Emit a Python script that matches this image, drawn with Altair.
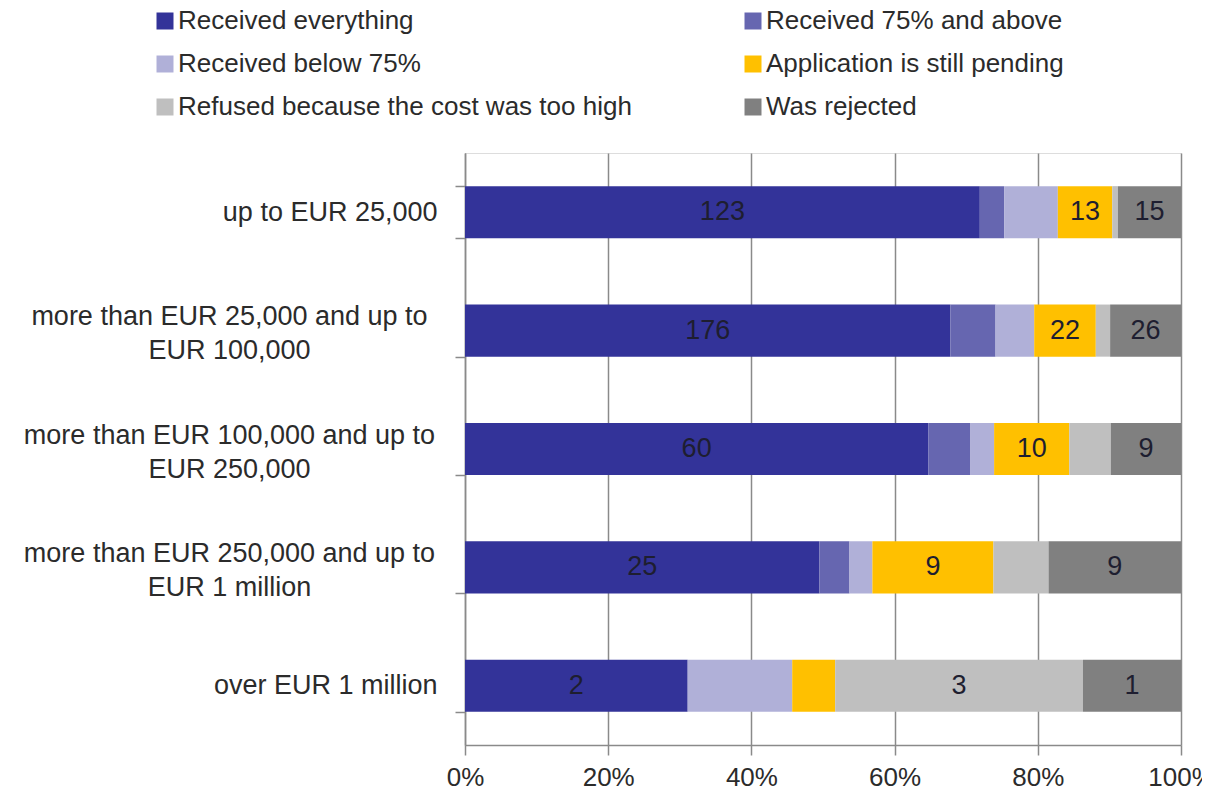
import altair as alt
import pandas as pd

categories = [
    "up to EUR 25,000",
    "more than EUR 25,000 and up to EUR 100,000",
    "more than EUR 100,000 and up to EUR 250,000",
    "more than EUR 250,000 and up to EUR 1 million",
    "over EUR 1 million",
]
series = [
    "Received everything",
    "Received 75% and above",
    "Received below 75%",
    "Application is still pending",
    "Refused because the cost was too high",
    "Was rejected",
]
colors = ["#333399", "#6666b0", "#b0b0d8", "#ffc000", "#bfbfbf", "#808080"]

# shares (%) of each answer per category
share_everything = [71.9, 67.8, 64.7, 49.5, 31.1]
share_75_above = [3.4, 6.3, 5.9, 4.2, 0.0]
share_below_75 = [7.5, 5.4, 3.3, 3.2, 14.6]
share_pending = [7.6, 8.6, 10.5, 16.9, 6.0]
share_refused = [0.8, 2.0, 5.8, 7.7, 34.6]
share_rejected = [8.8, 9.9, 9.8, 18.5, 13.7]

# counts printed inside the bars ("" = not printed)
label_everything = ["123", "176", "60", "25", "2"]
label_75_above = ["", "", "", "", ""]
label_below_75 = ["", "", "", "", ""]
label_pending = ["13", "22", "10", "9", ""]
label_refused = ["", "", "", "", "3"]
label_rejected = ["15", "26", "9", "9", "1"]

x_ticks = [0, 20, 40, 60, 80, 100]

shares = [share_everything, share_75_above, share_below_75,
          share_pending, share_refused, share_rejected]
labels = [label_everything, label_75_above, label_below_75,
          label_pending, label_refused, label_rejected]

rows = []
for si, s in enumerate(series):
    for ci, c in enumerate(categories):
        rows.append({"category": c, "series": s, "order": si,
                     "share": shares[si][ci], "label": labels[si][ci]})
df = pd.DataFrame(rows)

FONT = "Liberation Sans"
GRAY = "#8a8a8a"
TXT = "#2b2b2b"

yscale = alt.Scale(paddingInner=0.56, paddingOuter=0.28)
xscale = alt.Scale(domain=[0, 100], nice=False)

x_axis = alt.Axis(values=x_ticks, labelExpr="datum.value + '%'", grid=True,
                  gridColor=GRAY, gridWidth=1.5, domainColor=GRAY, domainWidth=1.5,
                  tickColor=GRAY, tickWidth=1.5, tickSize=10, labelPadding=9,
                  labelFontSize=26, labelColor=TXT, labelFont=FONT,
                  labelFlush=False, title=None)

base = alt.Chart(df)

bars = base.transform_filter("datum.share > 0").mark_bar().encode(
    x=alt.X("share:Q", stack="zero", scale=xscale, axis=x_axis),
    y=alt.Y("category:N", sort=categories, scale=yscale,
            axis=alt.Axis(orient="left", title=None, domainColor=GRAY, domainWidth=1.5,
                          tickColor=GRAY, tickWidth=1.5, tickSize=10, tickBand="extent",
                          labelPadding=18, labelAlign="right", labelFontSize=27,
                          labelColor=TXT, labelFont=FONT, labelLimit=600,
                          labelExpr="indexof(datum.label, ' and up to ') >= 0 ? '' : datum.label")),
    color=alt.Color("series:N", sort=series,
                    scale=alt.Scale(domain=series, range=colors),
                    legend=alt.Legend(orient="none", legendX=-313, legendY=-145,
                                      columns=2, direction="horizontal", title=None,
                                      symbolType="square",
                                      symbolSize=289, symbolStrokeWidth=0,
                                      labelFontSize=26, labelFont=FONT, labelColor=TXT,
                                      labelOffset=0, labelLimit=700,
                                      rowPadding=17, columnPadding=108)),
    order=alt.Order("order:Q"),
)

text = base.transform_window(
    cum="sum(share)", groupby=["category"], sort=[alt.SortField("order")],
    frame=[None, 0]
).transform_calculate(
    mid="datum.cum - datum.share / 2"
).transform_filter("datum.label != ''").mark_text(
    fontSize=27, font=FONT, color="#1e1e30", baseline="middle", align="center"
).encode(
    x=alt.X("mid:Q", scale=xscale, axis=x_axis),
    y=alt.Y("category:N", sort=categories, scale=yscale,
            axis=alt.Axis(orient="left", title=None, domain=False, ticks=False, tickSize=0,
                          labelPadding=236, labelAlign="center", labelFontSize=27,
                          labelColor=TXT, labelFont=FONT, labelLimit=600,
                          labelLineHeight=34, labelOffset=-14,
                          labelExpr="indexof(datum.label, ' and up to ') >= 0 ? "
                                    "[split(datum.label, ' and up to ')[0] + ' and up to', "
                                    "split(datum.label, ' and up to ')[1]] : ''")),
    text="label:N",
)

chart = alt.layer(bars, text).resolve_scale(y="independent").properties(
    width=716, height=592,
    autosize=alt.AutoSizeParams(type="none"),
    padding={"left": 457, "top": 145, "right": 21, "bottom": 45},
).configure_view(stroke=None).configure(font=FONT)

chart.save("out.html", embed_options={"renderer": "svg", "actions": False})
